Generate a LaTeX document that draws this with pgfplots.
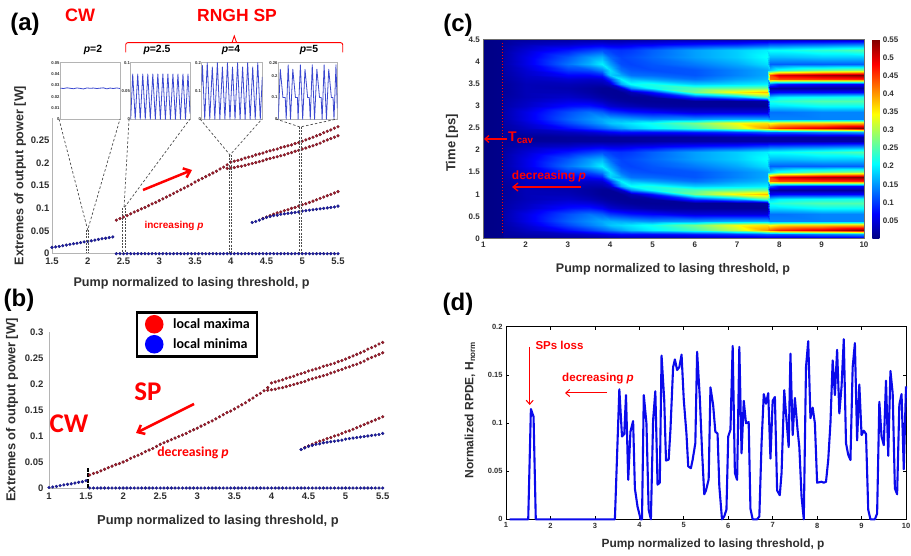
\documentclass[border=0pt]{standalone}
\usepackage{fontspec}
\setmainfont{Liberation Sans}
\newfontfamily\calib{Carlito}
\usepackage{pgfplots}
\usepackage{pgfplotstable}
\pgfplotsset{compat=1.18}
\usetikzlibrary{arrows.meta}
\definecolor{dotred}{HTML}{A01C2C}
\definecolor{dotredd}{HTML}{6E1420}
\definecolor{dotblue}{HTML}{1E1EA8}
\definecolor{lab}{HTML}{2E2E2E}
\definecolor{axg}{HTML}{B4B4B4}
\definecolor{insb}{HTML}{3A48D0}
\newcommand\fs[1]{\fontsize{#1}{#1}\selectfont}
\pgfplotstableread[row sep=\\]{x y\\2.4 .074\\2.45 .0775\\2.5 .081\\2.55 .084\\2.6 .088\\2.65 .092\\2.7 .095\\2.75 .099\\2.8 .102\\2.85 .106\\2.9 .11\\2.95 .113\\3 .117\\3.05 .121\\3.1 .125\\3.15 .129\\3.2 .133\\3.25 .137\\3.3 .141\\3.35 .145\\3.4 .149\\3.45 .153\\3.5 .158\\3.55 .162\\3.6 .166\\3.65 .17\\3.7 .174\\3.75 .178\\3.8 .182\\3.85 .187\\3.9 .191\\3.95 .196\\}\amain
\pgfplotstableread[row sep=\\]{x y\\1.55 .025\\1.6 .028\\1.65 .03\\1.7 .033\\1.75 .036\\1.8 .039\\1.85 .042\\1.9 .045\\1.95 .047\\2 .05\\2.05 .053\\2.1 .057\\2.15 .06\\2.2 .063\\2.25 .066\\2.3 .07\\2.35 .073\\2.4 .076\\2.45 .08\\2.5 .084\\2.55 .087\\2.6 .09\\2.65 .093\\2.7 .096\\2.75 .099\\2.8 .102\\2.85 .105\\2.9 .109\\2.95 .112\\3 .115\\3.05 .119\\3.1 .122\\3.15 .126\\3.2 .129\\3.25 .133\\3.3 .137\\3.35 .141\\3.4 .145\\3.45 .148\\3.5 .152\\3.55 .156\\3.6 .16\\3.65 .164\\3.7 .169\\3.75 .173\\3.8 .178\\3.85 .182\\3.9 .187\\3.95 .193\\}\bmain
\pgfplotstableread[row sep=\\]{x y\\4 .202\\4.05 .204\\4.1 .206\\4.15 .208\\4.2 .211\\4.25 .213\\4.3 .215\\4.35 .218\\4.4 .22\\4.45 .222\\4.5 .225\\4.55 .227\\4.6 .229\\4.65 .231\\4.7 .234\\4.75 .236\\4.8 .238\\4.85 .24\\4.9 .243\\4.95 .245\\5 .248\\5.05 .251\\5.1 .254\\5.15 .257\\5.2 .26\\5.25 .263\\5.3 .267\\5.35 .27\\5.4 .273\\5.45 .277\\5.5 .28\\}\brup
\pgfplotstableread[row sep=\\]{x y\\3.95 .188\\4 .189\\4.05 .19\\4.1 .192\\4.15 .193\\4.2 .195\\4.25 .197\\4.3 .199\\4.35 .201\\4.4 .203\\4.45 .205\\4.5 .208\\4.55 .21\\4.6 .212\\4.65 .214\\4.7 .216\\4.75 .218\\4.8 .221\\4.85 .223\\4.9 .226\\4.95 .228\\5 .231\\5.05 .233\\5.1 .236\\5.15 .238\\5.2 .241\\5.25 .244\\5.3 .248\\5.35 .251\\5.4 .254\\5.45 .257\\5.5 .26\\}\brlo
\pgfplotstableread[row sep=\\]{x y\\4.3 .069\\4.35 .071\\4.4 .074\\4.45 .077\\4.5 .08\\4.55 .082\\4.6 .084\\4.65 .085\\4.7 .087\\4.75 .088\\4.8 .089\\4.85 .09\\4.9 .091\\4.95 .092\\5 .094\\5.05 .095\\5.1 .096\\5.15 .097\\5.2 .098\\5.25 .099\\5.3 .1\\5.35 .101\\5.4 .102\\5.45 .103\\5.5 .105\\}\bluelow
\pgfplotstableread[row sep=\\]{x y\\4.45 .078\\4.5 .081\\4.55 .084\\4.6 .087\\4.65 .09\\4.7 .092\\4.75 .095\\4.8 .097\\4.85 .1\\4.9 .102\\4.95 .105\\5 .108\\5.05 .11\\5.1 .113\\5.15 .116\\5.2 .119\\5.25 .122\\5.3 .125\\5.35 .128\\5.4 .131\\5.45 .134\\5.5 .137\\}\redlow
\pgfplotstableread[row sep=\\]{x y\\1.55 0\\1.6 0\\1.65 0\\1.7 0\\1.75 0\\1.8 0\\1.85 0\\1.9 0\\1.95 0\\2 0\\2.05 0\\2.1 0\\2.15 0\\2.2 0\\2.25 0\\2.3 0\\2.35 0\\2.4 0\\2.45 0\\2.5 0\\2.55 0\\2.6 0\\2.65 0\\2.7 0\\2.75 0\\2.8 0\\2.85 0\\2.9 0\\2.95 0\\3 0\\3.05 0\\3.1 0\\3.15 0\\3.2 0\\3.25 0\\3.3 0\\3.35 0\\3.4 0\\3.45 0\\3.5 0\\3.55 0\\3.6 0\\3.65 0\\3.7 0\\3.75 0\\3.8 0\\3.85 0\\3.9 0\\3.95 0\\4 0\\4.05 0\\4.1 0\\4.15 0\\4.2 0\\4.25 0\\4.3 0\\4.35 0\\4.4 0\\4.45 0\\4.5 0\\4.55 0\\4.6 0\\4.65 0\\4.7 0\\4.75 0\\4.8 0\\4.85 0\\4.9 0\\4.95 0\\5 0\\5.05 0\\5.1 0\\5.15 0\\5.2 0\\5.25 0\\5.3 0\\5.35 0\\5.4 0\\5.45 0\\5.5 0\\}\zeroline
\pgfplotstableread{
p t v
1 0 .003
1 .1 .003
1 .2 .003
1 .3 .003
1 .4 .003
1 .55 .003
1 .7 .003
1 .8 .003
1 .9 .003
1 1 .003
1 1.1 .003
1 1.2 .003
1 1.3 .003
1 1.4 .003
1 1.5 .003
1 1.65 .003
1 1.8 .003
1 1.95 .003
1 2.1 .003
1 2.2 .003
1 2.3 .003
1.45 0 .006
1.45 .1 .006
1.45 .2 .006
1.45 .3 .006
1.45 .4 .006
1.45 .55 .006
1.45 .7 .006
1.45 .8 .006
1.45 .9 .006
1.45 1 .006
1.45 1.1 .006
1.45 1.2 .006
1.45 1.3 .006
1.45 1.4 .006
1.45 1.5 .006
1.45 1.65 .006
1.45 1.8 .006
1.45 1.95 .006
1.45 2.1 .006
1.45 2.2 .006
1.45 2.3 .006
1.5 0 .015
1.5 .1 .018
1.5 .2 .02
1.5 .3 .022
1.5 .4 .025
1.5 .55 .025
1.5 .7 .022
1.5 .8 .02
1.5 .9 .018
1.5 1 .015
1.5 1.1 .015
1.5 1.2 .015
1.5 1.3 .018
1.5 1.4 .02
1.5 1.5 .022
1.5 1.65 .024
1.5 1.8 .022
1.5 1.95 .02
1.5 2.1 .015
1.5 2.2 .012
1.5 2.3 .015
2 0 .012
2 .1 .025
2 .2 .035
2 .3 .045
2 .4 .055
2 .55 .055
2 .7 .04
2 .8 .035
2 .9 .03
2 1 .03
2 1.1 .03
2 1.2 .03
2 1.3 .035
2 1.4 .04
2 1.5 .045
2 1.65 .055
2 1.8 .055
2 1.95 .045
2 2.1 .03
2 2.2 .015
2 2.3 .012
3 0 .015
3 .1 .035
3 .2 .075
3 .3 .105
3 .4 .12
3 .55 .11
3 .7 .075
3 .8 .055
3 .9 .04
3 1 .03
3 1.1 .025
3 1.2 .03
3 1.3 .045
3 1.4 .07
3 1.5 .1
3 1.65 .13
3 1.8 .115
3 1.95 .08
3 2.1 .04
3 2.2 .015
3 2.3 .015
3.5 0 .015
3.5 .1 .045
3.5 .2 .1
3.5 .3 .135
3.5 .4 .145
3.5 .55 .13
3.5 .7 .08
3.5 .8 .05
3.5 .9 .03
3.5 1 .02
3.5 1.1 .018
3.5 1.2 .025
3.5 1.3 .04
3.5 1.4 .07
3.5 1.5 .11
3.5 1.65 .165
3.5 1.8 .15
3.5 1.95 .1
3.5 2.1 .05
3.5 2.2 .015
3.5 2.3 .015
3.8 0 .015
3.8 .1 .055
3.8 .2 .12
3.8 .3 .155
3.8 .4 .16
3.8 .55 .12
3.8 .7 .065
3.8 .8 .035
3.8 .9 .02
3.8 1 .012
3.8 1.1 .012
3.8 1.2 .025
3.8 1.3 .045
3.8 1.4 .085
3.8 1.5 .14
3.8 1.65 .2
3.8 1.8 .165
3.8 1.95 .11
3.8 2.1 .055
3.8 2.2 .015
3.8 2.3 .015
4 0 .015
4 .1 .065
4 .2 .135
4 .3 .175
4 .4 .165
4 .55 .1
4 .7 .045
4 .8 .025
4 .9 .015
4 1 .012
4 1.1 .012
4 1.2 .04
4 1.3 .1
4 1.4 .18
4 1.5 .19
4 1.65 .155
4 1.8 .125
4 1.95 .1
4 2.1 .05
4 2.2 .015
4 2.3 .015
4.25 0 .015
4.25 .1 .075
4.25 .2 .155
4.25 .3 .185
4.25 .4 .16
4.25 .55 .09
4.25 .7 .035
4.25 .8 .018
4.25 .9 .012
4.25 1 .012
4.25 1.1 .04
4.25 1.2 .16
4.25 1.3 .2
4.25 1.4 .16
4.25 1.5 .13
4.25 1.65 .11
4.25 1.8 .105
4.25 1.95 .095
4.25 2.1 .05
4.25 2.2 .015
4.25 2.3 .015
4.5 0 .015
4.5 .1 .075
4.5 .2 .175
4.5 .3 .195
4.5 .4 .155
4.5 .55 .08
4.5 .7 .03
4.5 .8 .014
4.5 .9 .012
4.5 1 .03
4.5 1.1 .14
4.5 1.2 .21
4.5 1.3 .17
4.5 1.4 .13
4.5 1.5 .115
4.5 1.65 .105
4.5 1.8 .11
4.5 1.95 .1
4.5 2.1 .055
4.5 2.2 .015
4.5 2.3 .015
5 0 .015
5 .1 .075
5 .2 .2
5 .3 .215
5 .4 .145
5 .55 .07
5 .7 .02
5 .8 .012
5 .9 .015
5 1 .08
5 1.1 .21
5 1.2 .22
5 1.3 .155
5 1.4 .125
5 1.5 .11
5 1.65 .115
5 1.8 .125
5 1.95 .12
5 2.1 .06
5 2.2 .018
5 2.3 .015
6 0 .015
6 .1 .085
6 .2 .24
6 .3 .27
6 .4 .15
6 .55 .05
6 .7 .015
6 .8 .012
6 .9 .1
6 1 .27
6 1.1 .25
6 1.2 .18
6 1.3 .13
6 1.4 .115
6 1.5 .115
6 1.65 .135
6 1.8 .155
6 1.95 .155
6 2.1 .075
6 2.2 .02
6 2.3 .015
7 0 .02
7 .1 .1
7 .2 .31
7 .3 .34
7 .4 .16
7 .55 .05
7 .7 .014
7 .8 .012
7 .9 .16
7 1 .35
7 1.1 .26
7 1.2 .19
7 1.3 .155
7 1.4 .14
7 1.5 .14
7 1.65 .16
7 1.8 .18
7 1.95 .18
7 2.1 .085
7 2.2 .02
7 2.3 .02
7.7 0 .02
7.7 .1 .12
7.7 .2 .4
7.7 .3 .36
7.7 .4 .16
7.7 .55 .05
7.7 .7 .014
7.7 .8 .02
7.7 .9 .25
7.7 1 .38
7.7 1.1 .27
7.7 1.2 .2
7.7 1.3 .17
7.7 1.4 .16
7.7 1.5 .16
7.7 1.65 .19
7.7 1.8 .21
7.7 1.95 .2
7.7 2.1 .1
7.7 2.2 .02
7.7 2.3 .02
7.78 0 .02
7.78 .1 .12
7.78 .2 .43
7.78 .3 .34
7.78 .4 .14
7.78 .55 .13
7.78 .7 .19
7.78 .8 .22
7.78 .9 .18
7.78 1 .06
7.78 1.1 .02
7.78 1.2 .12
7.78 1.3 .42
7.78 1.4 .44
7.78 1.5 .18
7.78 1.65 .12
7.78 1.8 .17
7.78 1.95 .21
7.78 2.1 .11
7.78 2.2 .02
7.78 2.3 .02
8 0 .02
8 .1 .12
8 .2 .46
8 .3 .36
8 .4 .14
8 .55 .13
8 .7 .19
8 .8 .23
8 .9 .2
8 1 .07
8 1.1 .015
8 1.2 .08
8 1.3 .44
8 1.4 .5
8 1.5 .22
8 1.65 .12
8 1.8 .17
8 1.95 .21
8 2.1 .11
8 2.2 .02
8 2.3 .02
9 0 .02
9 .1 .14
9 .2 .5
9 .3 .37
9 .4 .14
9 .55 .14
9 .7 .21
9 .8 .25
9 .9 .21
9 1 .07
9 1.1 .015
9 1.2 .07
9 1.3 .45
9 1.4 .53
9 1.5 .26
9 1.65 .12
9 1.8 .18
9 1.95 .23
9 2.1 .12
9 2.2 .02
9 2.3 .02
10 0 .02
10 .1 .16
10 .2 .55
10 .3 .38
10 .4 .14
10 .55 .14
10 .7 .21
10 .8 .25
10 .9 .22
10 1 .07
10 1.1 .015
10 1.2 .07
10 1.3 .46
10 1.4 .55
10 1.5 .28
10 1.65 .12
10 1.8 .18
10 1.95 .25
10 2.1 .13
10 2.2 .02
10 2.3 .02
}\heat
\pgfplotsset{
 dotr/.style={only marks,mark=*,mark size=1.45pt,mark options={fill=dotred,draw=dotredd,line width=.3pt},forget plot},
 dotb/.style={only marks,mark=*,mark size=1.45pt,mark options={fill=dotblue,draw=dotblue!70!black,line width=.3pt},forget plot},
 panel/.style={scale only axis,anchor=south west,clip=false,axis lines=left,axis line style={-,draw=axg,line width=.8pt},
   tick style={draw=none},
   /pgf/number format/assume math mode=true,/pgf/number format/fixed,/pgf/number format/precision=2,
   ticklabel style={font=\bfseries\fs{9.5},text=lab},
   xticklabel style={yshift=1pt},
   scaled ticks=false},
 inset/.style={scale only axis,anchor=south west,axis line style={draw=axg,line width=.7pt},xtick=\empty,
   tick style={draw=none},
   /pgf/number format/assume math mode=true,/pgf/number format/fixed,/pgf/number format/precision=2,
   ticklabel style={font=\bfseries\fs{4.2},text=lab,inner sep=.6pt},scaled ticks=false},
 insl/.style={no markers,color=insb,line width=.8pt,line join=round},
}
\begin{document}
\begin{tikzpicture}[x=1pt,y=1pt]
\path[use as bounding box] (0,0) rectangle (911,555);
% ---- panel a
\begin{axis}[panel,at={(52pt,301.3pt)},width=286pt,height=136pt,xmin=1.5,xmax=5.5,ymin=0,ymax=.3,
 yticklabel style={xshift=3pt},
 xtick={1.5,2,2.5,3,3.5,4,4.5,5,5.5},ytick={0,.05,.1,.15,.2,.25}]
\addplot[dotb] coordinates {(1.5,.014)(1.55,.015)(1.6,.016)(1.65,.0175)(1.7,.019)(1.75,.0205)(1.8,.022)(1.85,.023)(1.9,.0245)(1.95,.026)(2,.027)(2.05,.0285)(2.1,.03)(2.15,.0315)(2.2,.033)(2.25,.034)(2.3,.0355)(2.35,.037)};
\addplot[dotb,restrict x to domain=2.38:5.6] table[x=x,y=y]{\zeroline};
\addplot[dotr] table[x=x,y=y]{\amain};
\addplot[dotr] table[x=x,y=y]{\brup};
\addplot[dotr] table[x=x,y=y]{\brlo};
\addplot[dotr] table[x=x,y=y]{\redlow};
\addplot[dotb] table[x=x,y=y]{\bluelow};
\end{axis}
% insets
\begin{axis}[inset,at={(60.3pt,435.7pt)},width=59.7pt,height=56.6pt,xmin=0,xmax=36,ymin=0,ymax=.05,ytick={0,.01,.02,.03,.04,.05}]
\addplot[insl] coordinates {(0,.0275)(2,.0272)(4,.0278)(6,.0274)(8,.0270)(10,.0277)(12,.0273)(14,.0268)(16,.0277)(18,.0274)(20,.0276)(22,.0272)(24,.0275)(26,.0278)(28,.0269)(30,.0276)(32,.0272)(34,.0277)(36,.0272)};
\end{axis}
\begin{axis}[inset,at={(130.7pt,435.7pt)},width=59.3pt,height=56.6pt,xmin=0,xmax=11.8,ymin=0,ymax=.1,ytick={0,.05,.1}]
\addplot[insl] coordinates {(0,0)(.4,.08)(.9,0)(1.4,.08)(1.9,0)(2.4,.08)(2.9,0)(3.4,.08)(3.9,0)(4.4,.08)(4.9,0)(5.4,.08)(5.9,0)(6.4,.08)(6.9,0)(7.4,.08)(7.9,0)(8.4,.08)(8.9,0)(9.4,.08)(9.9,0)(10.4,.08)(10.9,0)(11.4,.08)(11.8,.01)};
\end{axis}
\begin{axis}[inset,at={(201.7pt,435.7pt)},width=60.6pt,height=56.6pt,xmin=0,xmax=12,ymin=0,ymax=.2,ytick={0,.1,.2}]
\addplot[insl] coordinates {(0,.12)(.15,.19)(.6,0)(1.1,.2)(1.6,0)(2.1,.185)(2.6,0)(3.1,.2)(3.6,0)(4.1,.185)(4.6,0)(5.1,.2)(5.6,0)(6.1,.185)(6.6,0)(7.1,.2)(7.6,0)(8.1,.185)(8.6,0)(9.1,.2)(9.6,0)(10.1,.185)(10.6,0)(11.1,.2)(11.6,0)(12,.15)};
\end{axis}
\begin{axis}[inset,at={(278.3pt,435.7pt)},width=59pt,height=56.6pt,xmin=0,xmax=179,ymin=0,ymax=.26,ytick={0,.1,.2,.26}]
\addplot[insl] coordinates {(0,0)(6,.23)(14,.1)(21,.1)(24,0)(30,.25)(37,0)(44,.23)(52,.1)(58,.1)(60,0)(67,.25)(74,0)(81,.23)(89,.1)(94,.1)(97,0)(103,.25)(110,0)(117,.23)(125,.1)(130,.1)(133,0)(139,.25)(146,0)(153,.23)(161,.1)(166,.1)(169,0)(175,.25)(179,.05)};
\end{axis}
% ---- panel b
\begin{axis}[panel,at={(49pt,67pt)},width=333.7pt,height=156pt,xmin=1,xmax=5.5,ymin=0,ymax=.3,
 xtick={1,1.5,2,2.5,3,3.5,4,4.5,5,5.5},ytick={0,.05,.1,.15,.2,.25,.3},
 legend entries={local maxima,local minima},
 legend cell align=left,
 legend style={at={(.2607,1.1346)},anchor=north west,draw=black,line width=2.5pt,font=\calib\bfseries\fs{14},inner xsep=5pt,inner ysep=4pt,text=black,/tikz/row sep=4pt},
 legend image code/.code={\draw[#1,mark options={draw=none}] plot coordinates {(0,0)};\path[draw=none,fill=none] (-12pt,0) -- (17pt,0);}]
\addlegendimage{only marks,mark=*,mark size=8pt,color=red,mark options={line width=0pt}}
\addlegendimage{only marks,mark=*,mark size=8pt,color=blue,mark options={line width=0pt}}
\addplot[dotb] coordinates {(1,.001)(1.05,.002)(1.1,.003)(1.15,.0045)(1.2,.006)(1.25,.007)(1.3,.008)(1.35,.0095)(1.4,.011)(1.45,.012)(1.5,.014)};
\addplot[forget plot,black,line width=2pt,dash pattern=on 4pt off 1.5pt] coordinates {(1.53,0)(1.53,.042)};
\addplot[dotb] table[x=x,y=y]{\zeroline};
\addplot[dotr] table[x=x,y=y]{\bmain};
\addplot[dotr] table[x=x,y=y]{\brup};
\addplot[dotr] table[x=x,y=y]{\brlo};
\addplot[dotr] table[x=x,y=y]{\redlow};
\addplot[dotb,restrict x to domain=4.38:5.6] table[x=x,y=y]{\bluelow};
\end{axis}
% ---- panel c
\begin{axis}[scale only axis,anchor=south west,at={(483.3pt,316.3pt)},width=380.7pt,height=199.4pt,
 xmin=1,xmax=10,ymin=0,ymax=4.5,view={0}{90},axis on top,
 axis line style={draw=lab!70,line width=.4pt},tick style={draw=none},
 xtick={1,...,10},ytick={0,.5,...,4.5},
 /pgf/number format/assume math mode=true,/pgf/number format/fixed,/pgf/number format/precision=2,
 ticklabel style={font=\bfseries\fs{8},text=lab},scaled ticks=false,
 colormap/jet,point meta min=0,point meta max=.55,
 colorbar,colorbar style={width=7pt,height=199.4pt,xshift=-8pt,ytick={.05,.1,.15,.2,.25,.3,.35,.4,.45,.5,.55},
   ticklabel style={font=\bfseries\fs{8},text=lab},axis line style={draw=none},tick style={draw=none},
   /pgf/number format/assume math mode=true,/pgf/number format/fixed,/pgf/number format/precision=2,scaled ticks=false}]
\addplot3[surf,shader=interp,mesh/ordering=y varies,mesh/rows=21] table[x=p,y=t,z=v]{\heat};
\addplot3[surf,shader=interp,mesh/ordering=y varies,mesh/rows=21] table[x=p,y expr=\thisrow{t}+2.3,z=v]{\heat};
\end{axis}
% ---- panel d
\begin{axis}[scale only axis,anchor=south west,at={(506pt,35.7pt)},width=400pt,height=192.6pt,xmin=1,xmax=10,ymin=0,ymax=.2,
 axis line style={line width=.7pt},tick align=inside,tick style={black,line width=.6pt,major tick length=3pt},
 xtick={1,...,10},ytick={0,.05,.1,.15,.2},
 /pgf/number format/assume math mode=true,/pgf/number format/fixed,/pgf/number format/precision=2,
 ticklabel style={font=\bfseries\fs{7.5},text=lab},scaled ticks=false,clip=false]
\addplot[color={rgb,255:red,10;green,10;blue,235},line width=2.1pt,line join=round] coordinates {(1.08,0)(1.5,0)(1.56,.1145)(1.62,.1066)(1.67,0)(3.45,0)(3.55,.135)(3.61,.086)(3.66,.0886)(3.7,.129)(3.75,.041)(3.8,.091)(3.86,.102)(3.9,.032)(3.96,.013)(4.03,0)(4.06,0)(4.1,.129)(4.16,.0997)(4.21,.01)(4.26,0)(4.31,.103)(4.36,.133)(4.41,.036)(4.46,.038)(4.5,.17)(4.56,.124)(4.6,.061)(4.66,.062)(4.7,.093)(4.76,.158)(4.8,.166)(4.85,.155)(4.9,.158)(4.95,.171)(5,.124)(5.06,.089)(5.1,.055)(5.16,.053)(5.2,.062)(5.26,.079)(5.3,.174)(5.36,.127)(5.41,.072)(5.46,.026)(5.5,.03)(5.56,.0415)(5.6,.137)(5.66,.119)(5.71,.091)(5.76,.089)(5.8,.034)(5.86,0)(5.91,.003)(5.96,.01)(6,.086)(6.05,.093)(6.1,.18)(6.15,.048)(6.2,.041)(6.25,.179)(6.3,.0685)(6.35,.123)(6.4,.0997)(6.46,.101)(6.5,.011)(6.55,0)(6.65,0)(6.7,.003)(6.75,.079)(6.8,.13)(6.85,.12)(6.9,.131)(6.95,.063)(7,.123)(7.05,.127)(7.1,.03)(7.16,.025)(7.2,.048)(7.26,.134)(7.3,.11)(7.36,.075)(7.4,.172)(7.45,.0875)(7.5,.126)(7.56,.093)(7.6,.075)(7.65,.0235)(7.7,0)(7.75,.158)(7.8,.185)(7.85,.105)(7.9,.116)(7.95,.0997)(8,.038)(8.1,.039)(8.15,.038)(8.2,.039)(8.25,.0616)(8.3,.1)(8.35,.165)(8.4,.129)(8.45,.176)(8.5,.11)(8.55,.138)(8.6,.187)(8.65,.079)(8.7,.067)(8.75,.0616)(8.8,.158)(8.85,.183)(8.9,.082)(8.95,.14)(9,.0875)(9.05,.092)(9.1,.0886)(9.15,.01)(9.2,0)(9.3,0)(9.35,.006)(9.4,.122)(9.45,.086)(9.5,.077)(9.55,.144)(9.6,.066)(9.65,.154)(9.7,.131)(9.75,.032)(9.8,.026)(9.85,.119)(9.9,.13)(9.95,.052)(10,.138)};
\end{axis}
% ---- annotations in pixel coordinates (y down)
\begin{scope}[x=1pt,y=-1pt,yshift=555pt]
\tikzset{lbl/.style={inner sep=0pt,font=\bfseries\fs{#1},text=black},
 rr/.style={inner sep=0pt,font=\bfseries\fs{#1},text=red},
 conn/.style={draw=black!70,dash pattern=on 2.5pt off 2pt,line width=.7pt},
 dbl/.style={draw=black!70,dash pattern=on 2pt off 1.2pt,line width=1pt}}
% connectors
\draw[conn] (59,119)--(87.7,230)--(120,119);
\draw[dbl] (86.7,230)--(86.7,253) (88.7,230)--(88.7,253);
\draw[conn] (129,119)--(124,208)--(190,119);
\draw[dbl] (122.7,208)--(122.7,253) (125.3,208)--(125.3,253);
\draw[conn] (200,119)--(230,155)--(262,119);
\draw[dbl] (229,155)--(229,253) (231.5,155)--(231.5,253);
\draw[conn] (276,119)--(300,127)--(337,119);
\draw[dbl] (299,127)--(299,253) (301.5,127)--(301.5,253);
% panel letters
\node[lbl=24] at (25,24) {(a)};
\node[lbl=24] at (19,300) {(b)};
\node[lbl=24] at (458,25) {(c)};
\node[lbl=24] at (458,304) {(d)};
% a
\node[rr=18] at (80,15) {CW};
\node[rr=17.5] at (237,15) {RNGH SP};
\foreach \x/\t in {93/2,157/2.5,231/4,309/5}
  \node[lbl=10.4] at (\x,50) {\textit{p}=\t};
\draw[red,line width=.9pt,rounded corners=2pt] (125.7,52.3)--(125.7,42.7)--(342.7,42.7)--(342.7,52.3);
\draw[red,line width=.9pt] (232,42.7)--(234.3,36)--(236.6,42.7);
\node[lbl=12.6,text=lab] at (191.5,283) {Pump normalized to lasing threshold, p};
\node[lbl=12.6,text=lab,rotate=90] at (20,175.5) {Extremes of output power [W]};
\draw[red,line width=2.5pt,-{Straight Barb[length=6pt,width=10pt]}] (143,190)--(192,170);
\node[rr=10] at (174,226) {increasing \textit{p}};
% b
\node[lbl=12.9,text=lab] at (218,521) {Pump normalized to lasing threshold, p};
\node[lbl=12.9,text=lab,rotate=90] at (12,410) {Extremes of output power [W]};
\node[inner sep=0pt,text=red,font=\calib\bfseries\fs{27}] at (69,424) {CW};
\node[inner sep=0pt,text=red,font=\calib\bfseries\fs{27}] at (148,392) {SP};
\node[inner sep=0pt,text=red,font=\calib\bfseries\fs{13.7}] at (193,453) {decreasing \textit{p}};
\draw[red,line width=2.5pt,-{Straight Barb[length=6pt,width=10pt]}] (194,404)--(136,433);
% c
\node[lbl=12.5,text=lab] at (673,269) {Pump normalized to lasing threshold, p};
\node[lbl=13,text=lab,rotate=90] at (452,143) {Time [ps]};
\draw[red,line width=1.3pt,dash pattern=on 1.4pt off 1.6pt] (502.7,43)--(502.7,233);
\draw[red,line width=1.3pt,-{Straight Barb[length=4pt,width=7pt]}] (507,139)--(484,139);
\node[rr=14,anchor=west] at (508,137.5) {T\textsubscript{cav}};
\node[rr=12] at (549,176) {decreasing \textit{p}};
\draw[red,line width=1.3pt,-{Straight Barb[length=5pt,width=8pt]}] (581,187)--(512,187);
% d
\node[lbl=11.9,text=lab] at (713,544) {Pump normalized to lasing threshold, p};
\node[lbl=12,text=lab,rotate=90] at (470,410) {Normalized RPDE, H\textsubscript{norm}};
\node[rr=11.5] at (559.5,345) {SPs loss};
\draw[red,line width=1pt,-{Straight Barb[length=4pt,width=7pt]}] (529.7,347)--(529.7,405);
\node[rr=11.6] at (598,379) {decreasing \textit{p}};
\draw[red,line width=1pt,-{Straight Barb[length=4pt,width=7pt]}] (607,393)--(565,393);
\end{scope}
\end{tikzpicture}
\end{document}
